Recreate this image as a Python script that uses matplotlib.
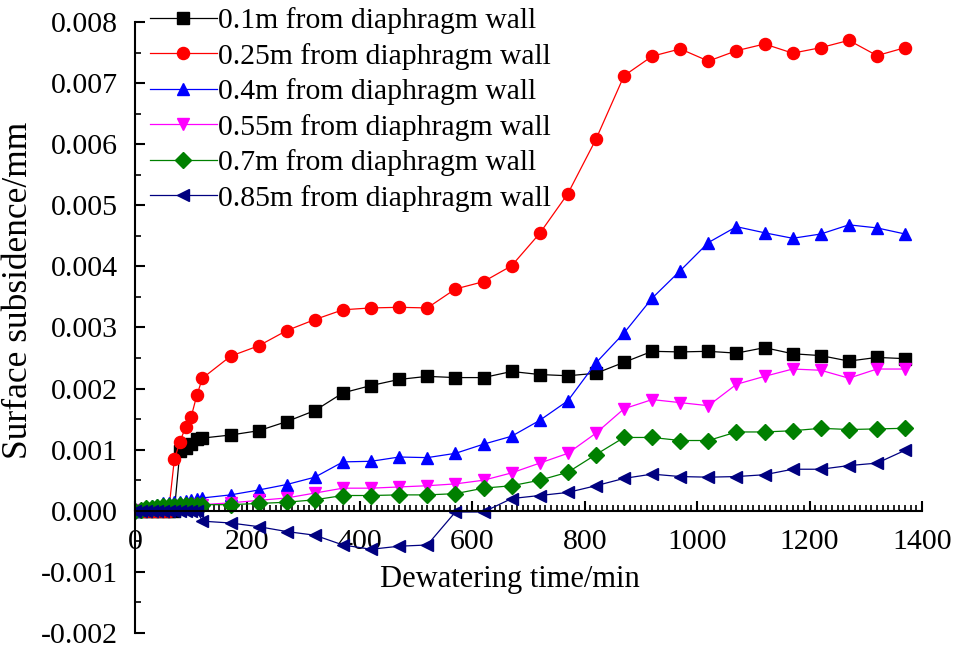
import numpy as np
import matplotlib
matplotlib.use("Agg")
import matplotlib.pyplot as plt
from matplotlib.ticker import MultipleLocator

plt.rcParams['font.family'] = ['Liberation Serif', 'DejaVu Serif']

# dewatering time (min): 10-min steps to 120, then 50-min steps
time_min = list(range(0, 130, 10)) + list(range(170, 1380, 50))

s_010 = [0, 0, 0, 0, 0, 0, 0, 0, 0.00098, 0.00103, 0.0011, 0.00118, 0.00119,
         0.00124, 0.00131, 0.00146, 0.00164, 0.00193, 0.00205, 0.00215, 0.0022, 0.00218,
         0.00218, 0.00228, 0.00223, 0.00221, 0.00225, 0.00243, 0.00261, 0.0026, 0.00261,
         0.00258, 0.00267, 0.00257, 0.00254, 0.00245, 0.00251, 0.00249]
s_025 = [0, 0, 0, 0, 0, 0, 0, 0.00084, 0.00113, 0.00137, 0.00154, 0.00189, 0.00217,
         0.00253, 0.0027, 0.00295, 0.00313, 0.00329, 0.00332, 0.00333, 0.00332, 0.00363,
         0.00375, 0.00401, 0.00454, 0.00519, 0.00608, 0.00712, 0.00744, 0.00756, 0.00736,
         0.00753, 0.00764, 0.00749, 0.00758, 0.0077, 0.00745, 0.00758]
s_040 = [0, 0.00003, 0.00006, 0.00008, 0.0001, 0.00012, 0.00013, 0.00014, 0.00015,
         0.00016, 0.00018, 0.0002, 0.00021,
         0.00026, 0.00034, 0.00043, 0.00055, 0.0008, 0.00081, 0.00088, 0.00087, 0.00094,
         0.00109, 0.00122, 0.00148, 0.0018, 0.00242, 0.00291, 0.00348, 0.00393, 0.00439,
         0.00465, 0.00455, 0.00446, 0.00453, 0.00468, 0.00463, 0.00453]
s_055 = [0, 0.00001, 0.00002, 0.00003, 0.00003, 0.00004, 0.00005, 0.00006, 0.00007,
         0.00008, 0.00009, 0.0001, 0.0001,
         0.00013, 0.00017, 0.00021, 0.00029, 0.00037, 0.00037, 0.00039, 0.00041, 0.00044,
         0.0005, 0.00062, 0.00078, 0.00094, 0.00127, 0.00167, 0.00182, 0.00177, 0.00172,
         0.00207, 0.0022, 0.00232, 0.0023, 0.00217, 0.00232, 0.00232]
s_070 = [0, 0.00002, 0.00004, 0.00005, 0.00006, 0.00007, 0.00008, 0.00008, 0.00009,
         0.00009, 0.0001, 0.0001, 0.0001,
         0.0001, 0.00012, 0.00014, 0.00018, 0.00025, 0.00025, 0.00026, 0.00026, 0.00028,
         0.00037, 0.00041, 0.0005, 0.00063, 0.00092, 0.0012, 0.0012, 0.00115, 0.00115,
         0.00129, 0.00129, 0.00131, 0.00135, 0.00133, 0.00134, 0.00135]
s_085 = [0, 0, 0, 0, 0, 0, 0, 0, 0, 0, 0, 0, -0.00017,
         -0.0002, -0.00026, -0.00034, -0.0004, -0.00056, -0.00063, -0.00058, -0.00056, -0.00002,
         -0.00002, 0.0002, 0.00025, 0.0003, 0.00041, 0.00053, 0.0006, 0.00056, 0.00055,
         0.00056, 0.00059, 0.00068, 0.00068, 0.00074, 0.00078, 0.00099]

labels = ["0.1m from diaphragm wall", "0.25m from diaphragm wall", "0.4m from diaphragm wall",
          "0.55m from diaphragm wall", "0.7m from diaphragm wall", "0.85m from diaphragm wall"]
colors = ["black", "#FF0000", "#0000FF", "#FF00FF", "#008000", "#000080"]
markers = ["s", "o", "^", "v", "D", "<"]
sizes = [8, 8.7, 9, 9, 7.8, 9]

fig = plt.figure(figsize=(9.56, 6.49), dpi=100)
ax = fig.add_axes([0.1412, 0.0247, 0.8232, 0.9414])

for ys, lab, c, m, ms in zip([s_010, s_025, s_040, s_055, s_070, s_085], labels, colors, markers, sizes):
    ax.plot(time_min, ys, color=c, marker=m, markersize=ms, linewidth=0.9, label=lab)

ax.set_xlim(0, 1400)
ax.set_ylim(-0.002, 0.008)
ax.spines['top'].set_visible(False)
ax.spines['right'].set_visible(False)
ax.spines['bottom'].set_position(('data', 0))
ax.spines['left'].set_linewidth(1.5)
ax.spines['bottom'].set_linewidth(1.5)

ax.xaxis.set_major_locator(MultipleLocator(200))
ax.xaxis.set_minor_locator(MultipleLocator(10))
ax.yaxis.set_major_locator(MultipleLocator(0.001))
ax.yaxis.set_minor_locator(MultipleLocator(0.0005))
ax.yaxis.set_major_formatter(plt.FormatStrFormatter('%.3f'))

ax.tick_params(axis='both', which='major', direction='in', length=7, width=1.5, labelsize=21.5)
ax.tick_params(axis='both', which='minor', direction='in', length=4, width=1.2)
ax.tick_params(axis='x', which='major', pad=13)
ax.tick_params(axis='y', which='major', pad=12)

ax.set_xlabel("Dewatering time/min", fontsize=22)
ax.set_ylabel("Surface subsidence/mm", fontsize=25.5)
ax.xaxis.set_label_coords(0.476, 0.112)
ax.yaxis.set_label_coords(-0.127, 0.56)

ax.legend(loc='upper left', bbox_to_anchor=(0.157, 0.989), bbox_transform=fig.transFigure,
          frameon=False, fontsize=21.3, handlelength=2.25, handletextpad=0.05,
          labelspacing=0.29, borderpad=0, borderaxespad=0)

fig.savefig("out.png", dpi=100)
